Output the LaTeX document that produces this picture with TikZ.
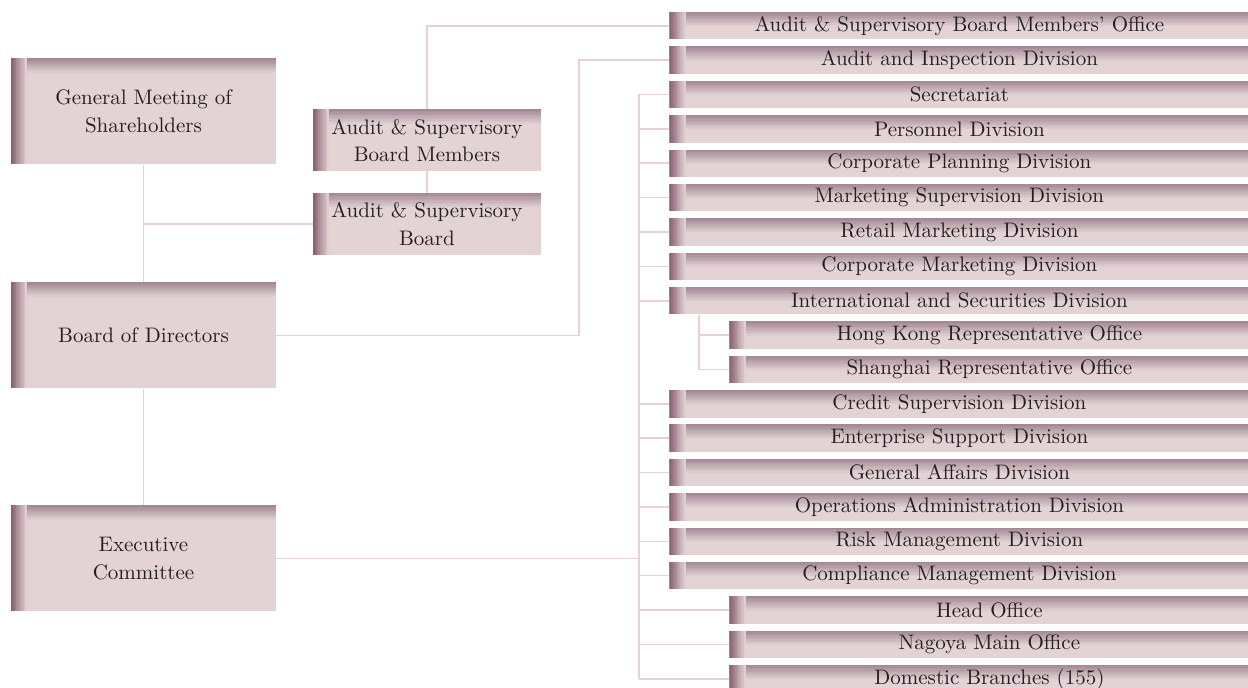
\documentclass[tikz,border=0pt]{standalone}
\usepackage{tikz}
\usetikzlibrary{backgrounds, calc}

\definecolor{boxfill}{HTML}{E3D3D5}
\definecolor{boxedge}{HTML}{8A6373}
\definecolor{boxtop}{HTML}{A38995}
\definecolor{linkcol}{HTML}{E6D2D6}
\definecolor{txtcol}{HTML}{231F20}

\tikzset{
  orgbox/.style={fill=boxfill, inner sep=0pt, align=center, text=txtcol,
    font=\fontsize{10.5}{13.8}\selectfont,
    path picture={
      % bandes du dégradé haut puis gauche
      \foreach \k [evaluate=\k as \p using 100-10*\k] in {0,...,9}
        \fill[boxtop!\p!boxfill] ([yshift=-0.7*\k pt]path picture bounding box.north west)
          rectangle ([yshift=-0.7*\k pt-0.8pt]path picture bounding box.north east);
      \foreach \k [evaluate=\k as \p using 100-12*\k] in {0,...,8}
        \fill[boxedge!\p!boxfill] ([xshift=0.9*\k pt]path picture bounding box.north west)
          rectangle ([xshift=0.9*\k pt+1pt]path picture bounding box.south west);
    }},
  bigbox/.style={orgbox, minimum width=132.5pt, minimum height=53pt},
  midbox/.style={orgbox, minimum width=114pt, minimum height=31pt},
  deptbox/.style={orgbox, anchor=west, minimum width=290pt, minimum height=13.7pt},
  subbox/.style={orgbox, anchor=west, minimum width=260pt, minimum height=13.7pt},
  link/.style={draw=linkcol, line width=0.8pt},
}

\begin{document}
\begin{tikzpicture}[x=0.5pt, y=-0.5pt]
  \useasboundingbox (0,0) rectangle (1248,688);

  % === Organes de gauche ===
  \node[bigbox] (gms)  at (143.5,111.5) {General Meeting of\\Shareholders};
  \node[bigbox] (bod)  at (143.5,335.5) {Board of Directors};
  \node[bigbox] (exec) at (143.5,558.5) {Executive\\Committee};

  \node[midbox] (asbm) at (427,140.5) {Audit \& Supervisory\\Board Members};
  \node[midbox] (asb)  at (427,224)   {Audit \& Supervisory\\Board};

  % === Colonne de droite ===
  \node[deptbox] (ofc)      at (669,25.8)  {Audit \& Supervisory Board Members' Office};
  \node[deptbox] (aid)      at (669,60.2)  {Audit and Inspection Division};
  \node[deptbox] (sec)      at (669,94.5)  {Secretariat};
  \node[deptbox] (pers)     at (669,128.9) {Personnel Division};
  \node[deptbox] (plan)     at (669,163.3) {Corporate Planning Division};
  \node[deptbox] (mksup)    at (669,197.7) {Marketing Supervision Division};
  \node[deptbox] (retail)   at (669,232.0) {Retail Marketing Division};
  \node[deptbox] (corpmk)   at (669,266.4) {Corporate Marketing Division};
  \node[deptbox] (intl)     at (669,300.8) {International and Securities Division};
  \node[subbox]  (hk)       at (729,335.1) {Hong Kong Representative Office};
  \node[subbox]  (sh)       at (729,369.5) {Shanghai Representative Office};
  \node[deptbox] (credit)   at (669,403.9) {Credit Supervision Division};
  \node[deptbox] (ent)      at (669,438.2) {Enterprise Support Division};
  \node[deptbox] (genaff)   at (669,472.6) {General Affairs Division};
  \node[deptbox] (ops)      at (669,507.0) {Operations Administration Division};
  \node[deptbox] (risk)     at (669,541.4) {Risk Management Division};
  \node[deptbox] (compl)    at (669,575.7) {Compliance Management Division};
  \node[subbox]  (head)     at (729,610.1) {Head Office};
  \node[subbox]  (nagoya)   at (729,644.5) {Nagoya Main Office};
  \node[subbox]  (branches) at (729,678.8) {Domestic Branches (155)};

  % colonnes des liaisons verticales
  \coordinate (auditcol) at (579,0);
  \coordinate (trunk)    at (639,0);
  \coordinate (subtrunk) at (699,0);

  % === Liaisons ===
  \begin{pgfonlayer}{background}
    \draw[link] (gms) -- (bod);
    \draw[link] (bod) -- (exec);
    \draw[link] (gms.south |- asb.west) -- (asb.west);
    \draw[link] (asb.north) -- (asb.north |- ofc.west) -- (ofc.west);
    \draw[link] (bod.east) -| (auditcol |- aid.west) -- (aid.west);
    \draw[link] (exec.east) -- (trunk |- exec.east);

    % tronc des divisions
    \draw[link] (trunk |- sec.west) -- (trunk |- branches.west);
    \draw[link] (trunk |- sec.west) -- (sec.west);
    \draw[link] (trunk |- pers.west) -- (pers.west);
    \draw[link] (trunk |- plan.west) -- (plan.west);
    \draw[link] (trunk |- mksup.west) -- (mksup.west);
    \draw[link] (trunk |- retail.west) -- (retail.west);
    \draw[link] (trunk |- corpmk.west) -- (corpmk.west);
    \draw[link] (trunk |- intl.west) -- (intl.west);
    \draw[link] (trunk |- credit.west) -- (credit.west);
    \draw[link] (trunk |- ent.west) -- (ent.west);
    \draw[link] (trunk |- genaff.west) -- (genaff.west);
    \draw[link] (trunk |- ops.west) -- (ops.west);
    \draw[link] (trunk |- risk.west) -- (risk.west);
    \draw[link] (trunk |- compl.west) -- (compl.west);
    \draw[link] (trunk |- head.west) -- (head.west);
    \draw[link] (trunk |- nagoya.west) -- (nagoya.west);
    \draw[link] (trunk |- branches.west) -- (branches.west);

    % bureaux de représentation
    \draw[link] (subtrunk |- intl.south) |- (sh.west);
    \draw[link] (subtrunk |- hk.west) -- (hk.west);
  \end{pgfonlayer}
\end{tikzpicture}
\end{document}
